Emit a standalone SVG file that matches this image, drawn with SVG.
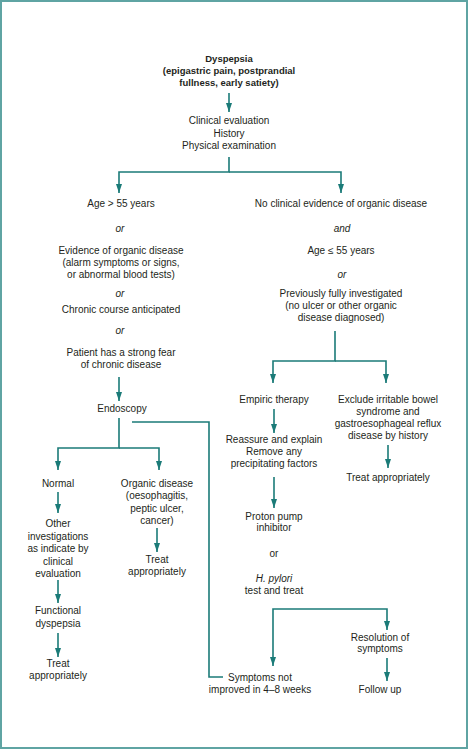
<svg xmlns="http://www.w3.org/2000/svg" width="469" height="750" viewBox="0 0 469 750">
<defs>
<marker id="ah" viewBox="0 0 9 6" refX="9" refY="3" markerWidth="9" markerHeight="6" markerUnits="userSpaceOnUse" orient="auto">
<path d="M0,0 L9,3 L0,6 z" fill="#1b7b78"/>
</marker>
<style>
text{font-family:"Liberation Sans",Arial,sans-serif;font-size:10px;fill:#231f20;text-anchor:middle}
.b{font-weight:bold;font-size:9.5px}
.i{font-style:italic}
.c{fill:none;stroke:#1b7b78;stroke-width:1.6}
.a{marker-end:url(#ah)}
</style>
</defs>
<rect x="1" y="1" width="466" height="747" fill="#fff" stroke="#5fa4a3" stroke-width="2"/>
<g id="connectors">
<path class="c a" d="M229,93 V112"/>
<path class="c a" d="M229,157 V172 H119 V193"/>
<path class="c a" d="M229,172 H341 V193"/>
<path class="c a" d="M119,377 V401"/>
<path class="c a" d="M119,418 V448 H58 V470"/>
<path class="c a" d="M119,448 H159 V470"/>
<path class="c" d="M132,422 H209 V677 H223"/>
<path class="c a" d="M58,492 V513"/>
<path class="c a" d="M58,580 V603"/>
<path class="c a" d="M58,633 V657"/>
<path class="c a" d="M157,528 V552"/>
<path class="c a" d="M335,331 V361 H273 V383"/>
<path class="c a" d="M335,361 H386 V383"/>
<path class="c a" d="M274,409 V433"/>
<path class="c a" d="M274,477 V508"/>
<path class="c a" d="M388,445 V468"/>
<path class="c a" d="M330,609 H273 V666"/>
<path class="c a" d="M330,609 H387 V630"/>
<path class="c a" d="M387,658 V681"/>
</g>
<g id="dyspepsia"><text class="b" x="229" y="62">Dyspepsia</text><text class="b" x="229" y="74">(epigastric pain, postprandial</text><text class="b" x="229" y="86">fullness, early satiety)</text></g>
<g id="clinical"><text x="229" y="124">Clinical evaluation</text><text x="229" y="137">History</text><text x="229" y="149">Physical examination</text></g>
<g id="left-criteria">
<text x="121" y="207">Age &gt; 55 years</text>
<text class="i" x="120" y="232">or</text>
<text x="121" y="254">Evidence of organic disease</text>
<text x="121" y="266">(alarm symptoms or signs,</text>
<text x="121" y="278">or abnormal blood tests)</text>
<text class="i" x="120" y="297">or</text>
<text x="121" y="313">Chronic course anticipated</text>
<text class="i" x="120" y="334">or</text>
<text x="121" y="356">Patient has a strong fear</text>
<text x="121" y="368">of chronic disease</text>
</g>
<g id="endoscopy"><text x="122" y="412">Endoscopy</text></g>
<g id="normal"><text x="58" y="487">Normal</text></g>
<g id="other-investigations"><text x="58" y="527">Other</text><text x="58" y="540">investigations</text><text x="58" y="552">as indicate by</text><text x="58" y="565">clinical</text><text x="58" y="577">evaluation</text></g>
<g id="functional"><text x="58" y="614">Functional</text><text x="58" y="627">dyspepsia</text></g>
<g id="treat-left"><text x="58" y="667">Treat</text><text x="58" y="679">appropriately</text></g>
<g id="organic"><text x="157" y="487">Organic disease</text><text x="157" y="499">(oesophagitis,</text><text x="157" y="512">peptic ulcer,</text><text x="157" y="524">cancer)</text></g>
<g id="treat-organic"><text x="157" y="563">Treat</text><text x="157" y="575">appropriately</text></g>
<g id="right-criteria">
<text x="341" y="207">No clinical evidence of organic disease</text>
<text class="i" x="342" y="232">and</text>
<text x="341" y="254">Age ≤ 55 years</text>
<text class="i" x="342" y="278">or</text>
<text x="341" y="297">Previously fully investigated</text>
<text x="341" y="309">(no ulcer or other organic</text>
<text x="341" y="321">disease diagnosed)</text>
</g>
<g id="empiric"><text x="274" y="403">Empiric therapy</text></g>
<g id="reassure"><text x="274" y="443">Reassure and explain</text><text x="274" y="455">Remove any</text><text x="274" y="467">precipitating factors</text></g>
<g id="ppi"><text x="274" y="520">Proton pump</text><text x="274" y="531">inhibitor</text><text x="274" y="557">or</text><text class="i" x="274" y="582">H. pylori</text><text x="274" y="594">test and treat</text></g>
<g id="exclude"><text x="388" y="403">Exclude irritable bowel</text><text x="388" y="415">syndrome and</text><text x="388" y="427">gastroesophageal reflux</text><text x="388" y="439">disease by history</text></g>
<g id="treat-right"><text x="388" y="481">Treat appropriately</text></g>
<g id="resolution"><text x="380" y="641">Resolution of</text><text x="380" y="652">symptoms</text></g>
<g id="follow-up"><text x="380" y="693">Follow up</text></g>
<g id="not-improved"><text x="260" y="681">Symptoms not</text><text x="260" y="693">improved in 4–8 weeks</text></g>
</svg>
